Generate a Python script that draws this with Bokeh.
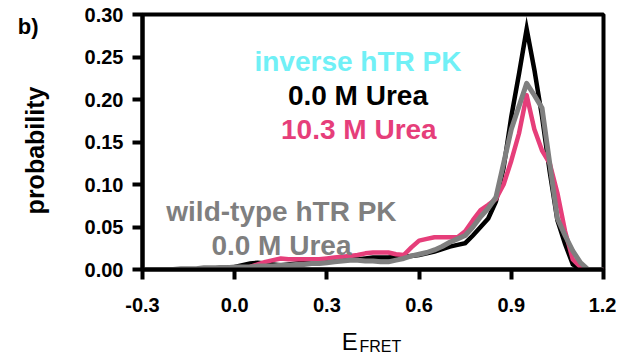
from bokeh.plotting import figure
from bokeh.models import Range1d, FixedTicker, PrintfTickFormatter, Label, LinearAxis
from bokeh.embed import file_html
from bokeh.resources import INLINE

# E_FRET bins (step 0.025 from -0.3 to 1.2), 61 bins
efret = [round(-0.3 + 0.025 * i, 3) for i in range(61)]

inverse_0M = [
    0, 0, 0, 0, 0, 0, 0, 0, 0, 0.001, 0.002, 0.002,                       # -0.3 .. -0.025
    0.003, 0.005, 0.007, 0.008, 0.007, 0.006, 0.005, 0.006, 0.007, 0.008,   # 0.0 .. 0.225
    0.008, 0.009, 0.010, 0.012, 0.014, 0.013, 0.012, 0.013, 0.014, 0.014,   # 0.25 .. 0.475
    0.014, 0.015, 0.015, 0.016, 0.017, 0.019, 0.021, 0.024, 0.027, 0.029,   # 0.5 .. 0.725
    0.031, 0.040, 0.050, 0.060, 0.080, 0.120, 0.180, 0.230, 0.283, 0.235,   # 0.75 .. 0.975
    0.180, 0.115, 0.058, 0.030, 0.006, 0, 0, 0, 0]                          # 1.0 .. 1.2

inverse_10M = [
    0, 0, 0, 0, 0, 0, 0, 0, 0, 0, 0, 0,
    0, 0.001, 0.003, 0.006, 0.009, 0.011, 0.013, 0.012, 0.012, 0.012,
    0.012, 0.012, 0.013, 0.014, 0.015, 0.016, 0.017, 0.019, 0.020, 0.020,
    0.020, 0.018, 0.017, 0.026, 0.034, 0.036, 0.038, 0.038, 0.038, 0.038,
    0.045, 0.058, 0.070, 0.076, 0.083, 0.100, 0.128, 0.160, 0.205, 0.165,
    0.140, 0.125, 0.090, 0.045, 0.012, 0.003, 0, 0, 0]

wildtype_0M = [
    0, 0, 0, 0, 0, 0.001, 0.001, 0.001, 0.002, 0.002, 0.002, 0.002,
    0.003, 0.003, 0.003, 0.004, 0.004, 0.004, 0.005, 0.005, 0.006, 0.006,
    0.007, 0.007, 0.008, 0.009, 0.010, 0.011, 0.011, 0.010, 0.010, 0.009,
    0.009, 0.011, 0.013, 0.016, 0.018, 0.020, 0.023, 0.027, 0.032, 0.036,
    0.040, 0.050, 0.062, 0.072, 0.085, 0.125, 0.165, 0.192, 0.219, 0.205,
    0.190, 0.125, 0.060, 0.040, 0.022, 0.008, 0, 0, 0]

x_ticks = [-0.3, 0.0, 0.3, 0.6, 0.9, 1.2]
y_ticks = [0.0, 0.05, 0.10, 0.15, 0.20, 0.25, 0.30]

FONT = "Liberation Sans"
PINK = "#E63E7A"
GRAY = "#7F7F7F"
CYAN = "#70F0F6"

W, H = 616, 362
p = figure(width=W, height=H, output_backend="svg", toolbar_location=None,
           x_range=Range1d(-0.3, 1.2), y_range=Range1d(0, 0.30),
           min_border_left=142, min_border_right=W - 603, min_border_top=14,
           min_border_bottom=H - 269)

p.background_fill_color = "white"
p.border_fill_color = "white"
p.outline_line_color = "black"
p.outline_line_width = 4
p.grid.visible = False

for ax in (p.xaxis[0], p.yaxis[0]):
    ax.axis_line_width = 4
    ax.axis_line_color = "black"
    ax.major_tick_line_width = 4
    ax.major_tick_line_color = "black"
    ax.major_tick_out = 10
    ax.major_tick_in = 0
    ax.minor_tick_line_color = None
    ax.major_label_text_font = FONT
    ax.major_label_text_font_style = "bold"
    ax.major_label_text_font_size = "20px"
    ax.major_label_text_color = "black"

p.xaxis[0].major_label_standoff = 18
p.yaxis[0].major_label_standoff = 9
p.xaxis[0].ticker = FixedTicker(ticks=x_ticks)
p.yaxis[0].ticker = FixedTicker(ticks=y_ticks)
p.xaxis[0].formatter = PrintfTickFormatter(format="%.1f")
p.yaxis[0].formatter = PrintfTickFormatter(format="%.2f")


def text_axis(text, pos, size, style, standoff, side, orientation="horizontal"):
    """An extra, invisible axis whose single tick label carries a title text."""
    ax = LinearAxis(ticker=FixedTicker(ticks=[pos]),
                    major_label_overrides={pos: text},
                    axis_line_color=None, major_tick_line_color=None,
                    minor_tick_line_color=None, major_tick_out=0, major_tick_in=0,
                    minor_tick_out=0, minor_tick_in=0,
                    major_label_standoff=standoff,
                    major_label_orientation=orientation,
                    major_label_text_font=FONT, major_label_text_font_size=size,
                    major_label_text_font_style=style, major_label_text_color="black")
    p.add_layout(ax, side)
    return ax

# x-axis title: E with subscript FRET
text_axis("E", 0.374, "24px", "normal", 13, "below")
text_axis("FRET", 0.474, "16px", "normal", -20, "below")
# y-axis title and panel letter
text_axis("probability", 0.14, "25px", "bold", 33, "left", "vertical")
text_axis("b)", 0.286, "22px", "bold", -21, "left")

p.line(efret, inverse_0M, line_color="black", line_width=4.5, line_join="miter")
p.line(efret, inverse_10M, line_color=PINK, line_width=4.5, line_join="round")
p.line(efret, wildtype_0M, line_color=GRAY, line_width=5, line_join="round")


def lab(x, y, t, color):
    p.add_layout(Label(x=x, y=y, text=t, text_color=color, text_font=FONT,
                       text_font_style="bold", text_font_size="28px",
                       text_align="center", text_baseline="alphabetic"))

lab(0.401, 0.2447, "inverse hTR PK", CYAN)
lab(0.401, 0.2047, "0.0 M Urea", "black")
lab(0.404, 0.1647, "10.3 M Urea", PINK)
lab(0.152, 0.0682, "wild-type hTR PK", GRAY)
lab(0.152, 0.0282, "0.0 M Urea", GRAY)

open("out.html", "w").write(file_html(p, INLINE))
